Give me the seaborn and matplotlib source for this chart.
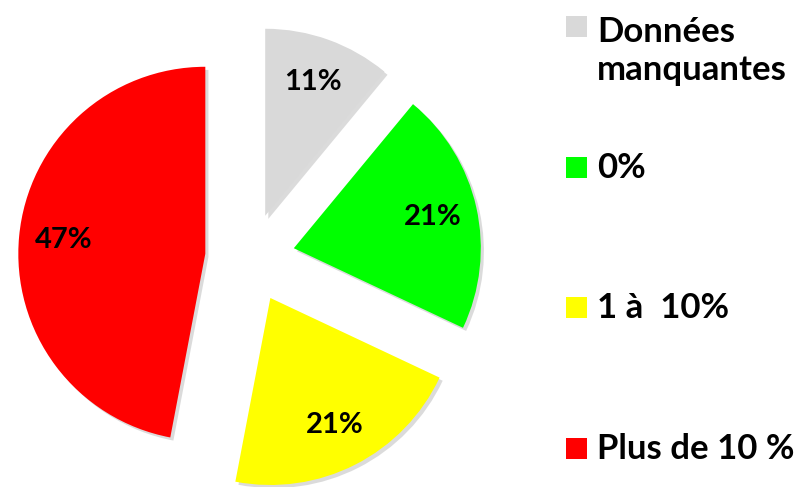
import matplotlib
matplotlib.use("Agg")
import matplotlib.pyplot as plt
from matplotlib.patches import Rectangle
import seaborn as sns

# data
categories = ["Données\nmanquantes", "0%", "1 à  10%", "Plus de 10 %"]
shares = [11, 21, 21, 47]
colors = ["#D9D9D9", "#00FF00", "#FFFF00", "#FF0000"]

sns.set_theme(style="white")
plt.rcParams["font.family"] = ["Lato", "DejaVu Sans"]
plt.rcParams["text.color"] = "black"

W, H = 796, 487
fig = plt.figure(figsize=(W / 100, H / 100), dpi=100)
ax = fig.add_axes([0, 0, 1, 1])

# pie centre in pixels and radius in pixels
cx, cy, r_px = 250, 258, 187

wedges, texts, autotexts = ax.pie(
    shares,
    colors=colors,
    startangle=90,
    counterclock=False,
    explode=[0.24] * len(shares),
    autopct="%1.0f%%",
    pctdistance=0.76,
    shadow={"ox": 0.012, "oy": -0.012, "facecolor": "#9a9a9a",
            "edgecolor": "none", "alpha": 0.35},
    wedgeprops={"linewidth": 0},
    textprops={"fontsize": 21, "fontweight": "bold", "color": "black"},
)

ax.set_xlim(-cx / r_px, (W - cx) / r_px)
ax.set_ylim(-(H - cy) / r_px, cy / r_px)
ax.set_aspect("auto")
ax.axis("off")

# legend drawn by hand so the first square lines up with the first text line
legend_baselines = [37, 178, 318, 459]
line_px = 43
for label, color, base in zip(categories, colors, legend_baselines):
    sq = 21
    fig.add_artist(Rectangle((566 / W, 1 - base / H), sq / W, sq / H,
                             transform=fig.transFigure, facecolor=color,
                             edgecolor="none"))
    # matplotlib puts the baseline of the last line at y for multi-line text
    last_base = base + line_px * label.count("\n")
    fig.text(597 / W, 1 - last_base / H, label, fontsize=25, fontweight="bold",
             color="black", va="baseline", ha="left", linespacing=1.24)

fig.savefig("out.png", dpi=100, facecolor="white")
